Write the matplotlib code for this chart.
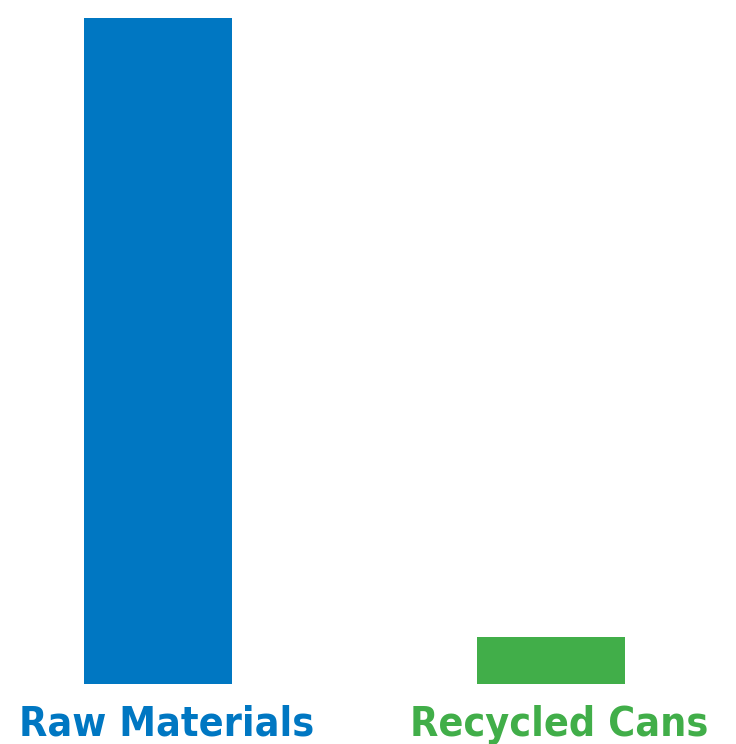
import matplotlib.pyplot as plt

categories = ["Raw Materials", "Recycled Cans"]
values = [100, 7]
colors = ["#0077C2", "#41AE49"]

fig = plt.figure(figsize=(7.36, 7.44), dpi=100)
ax = fig.add_axes([0, 60 / 744, 1, 666 / 744])

x = range(len(categories))
ax.bar(x, values, width=148 / 393, color=colors)
ax.set_xlim(-158 / 393, (736 - 158) / 393)
ax.set_ylim(0, 100)

for i, (name, c) in enumerate(zip(categories, colors)):
    ax.text(i + 8.5 / 393, -52 / 666 * 100, name, color=c, ha="center", va="baseline",
            fontsize=29.5, fontweight="bold", fontstretch="condensed",
            family="DejaVu Sans", clip_on=False)

ax.axis("off")
fig.savefig("out.png", dpi=100)
